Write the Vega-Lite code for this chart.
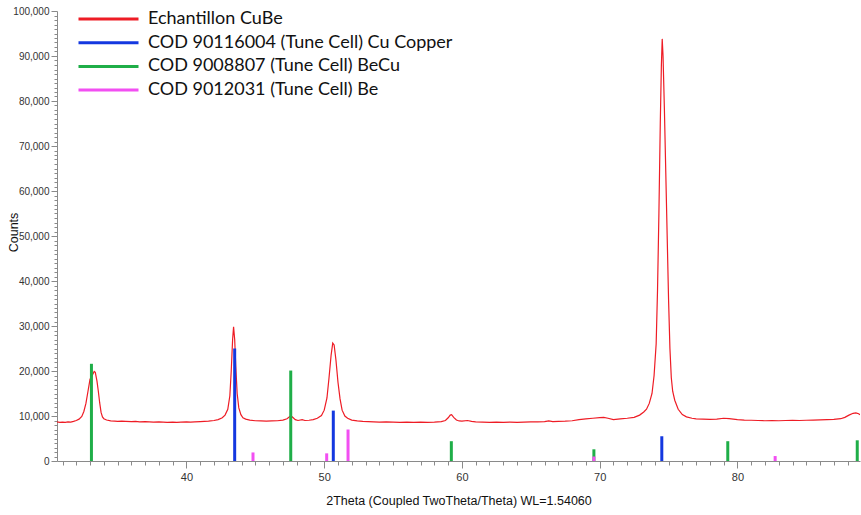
{
  "$schema": "https://vega.github.io/schema/vega-lite/v6.json",
  "autosize": {"type": "none"},
  "width": 803,
  "height": 450,
  "padding": {"left": 57, "top": 11, "right": 1, "bottom": 54},
  "background": "white",
  "config": {"view": {"stroke": null}},
  "datasets": {
    "scan": [
      {"series": "Echantillon CuBe", "twotheta": 30.6, "counts": 8700},
      {"series": "Echantillon CuBe", "twotheta": 30.8, "counts": 8600},
      {"series": "Echantillon CuBe", "twotheta": 31.0, "counts": 8650},
      {"series": "Echantillon CuBe", "twotheta": 31.2, "counts": 8600},
      {"series": "Echantillon CuBe", "twotheta": 31.4, "counts": 8700},
      {"series": "Echantillon CuBe", "twotheta": 31.6, "counts": 8650},
      {"series": "Echantillon CuBe", "twotheta": 31.8, "counts": 8800},
      {"series": "Echantillon CuBe", "twotheta": 32.0, "counts": 9000},
      {"series": "Echantillon CuBe", "twotheta": 32.2, "counts": 9300},
      {"series": "Echantillon CuBe", "twotheta": 32.4, "counts": 9900},
      {"series": "Echantillon CuBe", "twotheta": 32.55, "counts": 11000},
      {"series": "Echantillon CuBe", "twotheta": 32.7, "counts": 12800},
      {"series": "Echantillon CuBe", "twotheta": 32.85, "counts": 15500},
      {"series": "Echantillon CuBe", "twotheta": 33.0, "counts": 18200},
      {"series": "Echantillon CuBe", "twotheta": 33.1, "counts": 18500},
      {"series": "Echantillon CuBe", "twotheta": 33.2, "counts": 19300},
      {"series": "Echantillon CuBe", "twotheta": 33.3, "counts": 19900},
      {"series": "Echantillon CuBe", "twotheta": 33.38, "counts": 19700},
      {"series": "Echantillon CuBe", "twotheta": 33.5, "counts": 17800},
      {"series": "Echantillon CuBe", "twotheta": 33.6, "counts": 15500},
      {"series": "Echantillon CuBe", "twotheta": 33.7, "counts": 12900},
      {"series": "Echantillon CuBe", "twotheta": 33.8, "counts": 10800},
      {"series": "Echantillon CuBe", "twotheta": 33.9, "counts": 9800},
      {"series": "Echantillon CuBe", "twotheta": 34.0, "counts": 9400},
      {"series": "Echantillon CuBe", "twotheta": 34.2, "counts": 9100},
      {"series": "Echantillon CuBe", "twotheta": 34.5, "counts": 8900},
      {"series": "Echantillon CuBe", "twotheta": 34.8, "counts": 8850},
      {"series": "Echantillon CuBe", "twotheta": 35.0, "counts": 8800},
      {"series": "Echantillon CuBe", "twotheta": 35.3, "counts": 8850},
      {"series": "Echantillon CuBe", "twotheta": 35.6, "counts": 8800},
      {"series": "Echantillon CuBe", "twotheta": 36.0, "counts": 8750},
      {"series": "Echantillon CuBe", "twotheta": 36.3, "counts": 8800},
      {"series": "Echantillon CuBe", "twotheta": 36.6, "counts": 8700},
      {"series": "Echantillon CuBe", "twotheta": 37.0, "counts": 8750},
      {"series": "Echantillon CuBe", "twotheta": 37.3, "counts": 8700},
      {"series": "Echantillon CuBe", "twotheta": 37.6, "counts": 8650},
      {"series": "Echantillon CuBe", "twotheta": 38.0, "counts": 8700},
      {"series": "Echantillon CuBe", "twotheta": 38.3, "counts": 8650},
      {"series": "Echantillon CuBe", "twotheta": 38.6, "counts": 8600},
      {"series": "Echantillon CuBe", "twotheta": 39.0, "counts": 8650},
      {"series": "Echantillon CuBe", "twotheta": 39.3, "counts": 8600},
      {"series": "Echantillon CuBe", "twotheta": 39.6, "counts": 8650},
      {"series": "Echantillon CuBe", "twotheta": 40.0, "counts": 8700},
      {"series": "Echantillon CuBe", "twotheta": 40.3, "counts": 8650},
      {"series": "Echantillon CuBe", "twotheta": 40.6, "counts": 8700},
      {"series": "Echantillon CuBe", "twotheta": 41.0, "counts": 8750},
      {"series": "Echantillon CuBe", "twotheta": 41.3, "counts": 8800},
      {"series": "Echantillon CuBe", "twotheta": 41.6, "counts": 8850},
      {"series": "Echantillon CuBe", "twotheta": 42.0, "counts": 9000},
      {"series": "Echantillon CuBe", "twotheta": 42.3, "counts": 9200},
      {"series": "Echantillon CuBe", "twotheta": 42.6, "counts": 9600},
      {"series": "Echantillon CuBe", "twotheta": 42.8, "counts": 10200},
      {"series": "Echantillon CuBe", "twotheta": 43.0, "counts": 11500},
      {"series": "Echantillon CuBe", "twotheta": 43.15, "counts": 14500},
      {"series": "Echantillon CuBe", "twotheta": 43.25, "counts": 20000},
      {"series": "Echantillon CuBe", "twotheta": 43.35, "counts": 27000},
      {"series": "Echantillon CuBe", "twotheta": 43.42, "counts": 29800},
      {"series": "Echantillon CuBe", "twotheta": 43.5, "counts": 27000},
      {"series": "Echantillon CuBe", "twotheta": 43.58, "counts": 21000},
      {"series": "Echantillon CuBe", "twotheta": 43.68, "counts": 15000},
      {"series": "Echantillon CuBe", "twotheta": 43.8, "counts": 11800},
      {"series": "Echantillon CuBe", "twotheta": 43.95, "counts": 10300},
      {"series": "Echantillon CuBe", "twotheta": 44.1, "counts": 9600},
      {"series": "Echantillon CuBe", "twotheta": 44.3, "counts": 9300},
      {"series": "Echantillon CuBe", "twotheta": 44.6, "counts": 9100},
      {"series": "Echantillon CuBe", "twotheta": 45.0, "counts": 8950},
      {"series": "Echantillon CuBe", "twotheta": 45.4, "counts": 8900},
      {"series": "Echantillon CuBe", "twotheta": 45.8, "counts": 8850},
      {"series": "Echantillon CuBe", "twotheta": 46.2, "counts": 8900},
      {"series": "Echantillon CuBe", "twotheta": 46.6, "counts": 8950},
      {"series": "Echantillon CuBe", "twotheta": 47.0, "counts": 9100},
      {"series": "Echantillon CuBe", "twotheta": 47.3, "counts": 9400},
      {"series": "Echantillon CuBe", "twotheta": 47.5, "counts": 9900},
      {"series": "Echantillon CuBe", "twotheta": 47.6, "counts": 10000},
      {"series": "Echantillon CuBe", "twotheta": 47.75, "counts": 9600},
      {"series": "Echantillon CuBe", "twotheta": 47.9, "counts": 9200},
      {"series": "Echantillon CuBe", "twotheta": 48.1, "counts": 9000},
      {"series": "Echantillon CuBe", "twotheta": 48.4, "counts": 9200},
      {"series": "Echantillon CuBe", "twotheta": 48.6, "counts": 9000},
      {"series": "Echantillon CuBe", "twotheta": 48.9, "counts": 9050},
      {"series": "Echantillon CuBe", "twotheta": 49.2, "counts": 9200},
      {"series": "Echantillon CuBe", "twotheta": 49.5, "counts": 9500},
      {"series": "Echantillon CuBe", "twotheta": 49.8, "counts": 10100},
      {"series": "Echantillon CuBe", "twotheta": 50.0, "counts": 11300},
      {"series": "Echantillon CuBe", "twotheta": 50.2, "counts": 14000},
      {"series": "Echantillon CuBe", "twotheta": 50.35, "counts": 18500},
      {"series": "Echantillon CuBe", "twotheta": 50.5, "counts": 23500},
      {"series": "Echantillon CuBe", "twotheta": 50.62, "counts": 26200},
      {"series": "Echantillon CuBe", "twotheta": 50.72, "counts": 25800},
      {"series": "Echantillon CuBe", "twotheta": 50.85, "counts": 22500},
      {"series": "Echantillon CuBe", "twotheta": 51.0, "counts": 17500},
      {"series": "Echantillon CuBe", "twotheta": 51.15, "counts": 13800},
      {"series": "Echantillon CuBe", "twotheta": 51.3, "counts": 11300},
      {"series": "Echantillon CuBe", "twotheta": 51.5, "counts": 10000},
      {"series": "Echantillon CuBe", "twotheta": 51.7, "counts": 9500},
      {"series": "Echantillon CuBe", "twotheta": 52.0, "counts": 9100},
      {"series": "Echantillon CuBe", "twotheta": 52.4, "counts": 8900},
      {"series": "Echantillon CuBe", "twotheta": 52.8, "counts": 8800},
      {"series": "Echantillon CuBe", "twotheta": 53.2, "counts": 8750},
      {"series": "Echantillon CuBe", "twotheta": 53.6, "counts": 8700},
      {"series": "Echantillon CuBe", "twotheta": 54.0, "counts": 8650},
      {"series": "Echantillon CuBe", "twotheta": 54.5, "counts": 8700},
      {"series": "Echantillon CuBe", "twotheta": 55.0, "counts": 8650},
      {"series": "Echantillon CuBe", "twotheta": 55.5, "counts": 8600},
      {"series": "Echantillon CuBe", "twotheta": 56.0, "counts": 8650},
      {"series": "Echantillon CuBe", "twotheta": 56.5, "counts": 8600},
      {"series": "Echantillon CuBe", "twotheta": 57.0, "counts": 8650},
      {"series": "Echantillon CuBe", "twotheta": 57.5, "counts": 8600},
      {"series": "Echantillon CuBe", "twotheta": 58.0, "counts": 8650},
      {"series": "Echantillon CuBe", "twotheta": 58.5, "counts": 8750},
      {"series": "Echantillon CuBe", "twotheta": 58.8, "counts": 9000},
      {"series": "Echantillon CuBe", "twotheta": 59.0, "counts": 9600},
      {"series": "Echantillon CuBe", "twotheta": 59.15, "counts": 10200},
      {"series": "Echantillon CuBe", "twotheta": 59.25, "counts": 10300},
      {"series": "Echantillon CuBe", "twotheta": 59.4, "counts": 9700},
      {"series": "Echantillon CuBe", "twotheta": 59.6, "counts": 9100},
      {"series": "Echantillon CuBe", "twotheta": 59.8, "counts": 8900},
      {"series": "Echantillon CuBe", "twotheta": 60.0, "counts": 8850},
      {"series": "Echantillon CuBe", "twotheta": 60.4, "counts": 9000},
      {"series": "Echantillon CuBe", "twotheta": 60.7, "counts": 8800},
      {"series": "Echantillon CuBe", "twotheta": 61.0, "counts": 8700},
      {"series": "Echantillon CuBe", "twotheta": 61.5, "counts": 8650},
      {"series": "Echantillon CuBe", "twotheta": 62.0, "counts": 8600},
      {"series": "Echantillon CuBe", "twotheta": 62.5, "counts": 8650},
      {"series": "Echantillon CuBe", "twotheta": 63.0, "counts": 8600},
      {"series": "Echantillon CuBe", "twotheta": 63.5, "counts": 8650},
      {"series": "Echantillon CuBe", "twotheta": 64.0, "counts": 8600},
      {"series": "Echantillon CuBe", "twotheta": 64.5, "counts": 8650},
      {"series": "Echantillon CuBe", "twotheta": 65.0, "counts": 8700},
      {"series": "Echantillon CuBe", "twotheta": 65.5, "counts": 8700},
      {"series": "Echantillon CuBe", "twotheta": 66.0, "counts": 8750},
      {"series": "Echantillon CuBe", "twotheta": 66.3, "counts": 8900},
      {"series": "Echantillon CuBe", "twotheta": 66.6, "counts": 8750},
      {"series": "Echantillon CuBe", "twotheta": 67.0, "counts": 8800},
      {"series": "Echantillon CuBe", "twotheta": 67.5, "counts": 8850},
      {"series": "Echantillon CuBe", "twotheta": 68.0, "counts": 8950},
      {"series": "Echantillon CuBe", "twotheta": 68.5, "counts": 9200},
      {"series": "Echantillon CuBe", "twotheta": 69.0, "counts": 9350},
      {"series": "Echantillon CuBe", "twotheta": 69.5, "counts": 9500},
      {"series": "Echantillon CuBe", "twotheta": 70.0, "counts": 9650},
      {"series": "Echantillon CuBe", "twotheta": 70.3, "counts": 9700},
      {"series": "Echantillon CuBe", "twotheta": 70.6, "counts": 9500},
      {"series": "Echantillon CuBe", "twotheta": 71.0, "counts": 9200},
      {"series": "Echantillon CuBe", "twotheta": 71.5, "counts": 9350},
      {"series": "Echantillon CuBe", "twotheta": 72.0, "counts": 9500},
      {"series": "Echantillon CuBe", "twotheta": 72.5, "counts": 9700},
      {"series": "Echantillon CuBe", "twotheta": 72.9, "counts": 10200},
      {"series": "Echantillon CuBe", "twotheta": 73.2, "counts": 10900},
      {"series": "Echantillon CuBe", "twotheta": 73.4, "counts": 11500},
      {"series": "Echantillon CuBe", "twotheta": 73.6, "counts": 12800},
      {"series": "Echantillon CuBe", "twotheta": 73.8, "counts": 15000},
      {"series": "Echantillon CuBe", "twotheta": 73.95, "counts": 19000},
      {"series": "Echantillon CuBe", "twotheta": 74.1, "counts": 26000},
      {"series": "Echantillon CuBe", "twotheta": 74.2, "counts": 38000},
      {"series": "Echantillon CuBe", "twotheta": 74.3, "counts": 55000},
      {"series": "Echantillon CuBe", "twotheta": 74.4, "counts": 75000},
      {"series": "Echantillon CuBe", "twotheta": 74.48, "counts": 88000},
      {"series": "Echantillon CuBe", "twotheta": 74.54, "counts": 93800},
      {"series": "Echantillon CuBe", "twotheta": 74.6, "counts": 90000},
      {"series": "Echantillon CuBe", "twotheta": 74.7, "counts": 78000},
      {"series": "Echantillon CuBe", "twotheta": 74.8, "counts": 64000},
      {"series": "Echantillon CuBe", "twotheta": 74.9, "counts": 50000},
      {"series": "Echantillon CuBe", "twotheta": 75.0, "counts": 36000},
      {"series": "Echantillon CuBe", "twotheta": 75.1, "counts": 25000},
      {"series": "Echantillon CuBe", "twotheta": 75.2, "counts": 18500},
      {"series": "Echantillon CuBe", "twotheta": 75.3, "counts": 15500},
      {"series": "Echantillon CuBe", "twotheta": 75.45, "counts": 13500},
      {"series": "Echantillon CuBe", "twotheta": 75.7, "counts": 11500},
      {"series": "Echantillon CuBe", "twotheta": 76.0, "counts": 10300},
      {"series": "Echantillon CuBe", "twotheta": 76.3, "counts": 9800},
      {"series": "Echantillon CuBe", "twotheta": 76.7, "counts": 9500},
      {"series": "Echantillon CuBe", "twotheta": 77.0, "counts": 9350},
      {"series": "Echantillon CuBe", "twotheta": 77.5, "counts": 9300},
      {"series": "Echantillon CuBe", "twotheta": 78.0, "counts": 9250},
      {"series": "Echantillon CuBe", "twotheta": 78.5, "counts": 9300},
      {"series": "Echantillon CuBe", "twotheta": 79.0, "counts": 9500},
      {"series": "Echantillon CuBe", "twotheta": 79.4, "counts": 9400},
      {"series": "Echantillon CuBe", "twotheta": 80.0, "counts": 9200},
      {"series": "Echantillon CuBe", "twotheta": 80.5, "counts": 9100},
      {"series": "Echantillon CuBe", "twotheta": 81.0, "counts": 9050},
      {"series": "Echantillon CuBe", "twotheta": 81.5, "counts": 9000},
      {"series": "Echantillon CuBe", "twotheta": 82.0, "counts": 8950},
      {"series": "Echantillon CuBe", "twotheta": 82.5, "counts": 9000},
      {"series": "Echantillon CuBe", "twotheta": 83.0, "counts": 8950},
      {"series": "Echantillon CuBe", "twotheta": 83.5, "counts": 9000},
      {"series": "Echantillon CuBe", "twotheta": 84.0, "counts": 9050},
      {"series": "Echantillon CuBe", "twotheta": 84.5, "counts": 9000},
      {"series": "Echantillon CuBe", "twotheta": 85.0, "counts": 9050},
      {"series": "Echantillon CuBe", "twotheta": 85.5, "counts": 9100},
      {"series": "Echantillon CuBe", "twotheta": 86.0, "counts": 9150},
      {"series": "Echantillon CuBe", "twotheta": 86.5, "counts": 9200},
      {"series": "Echantillon CuBe", "twotheta": 87.0, "counts": 9250},
      {"series": "Echantillon CuBe", "twotheta": 87.5, "counts": 9400},
      {"series": "Echantillon CuBe", "twotheta": 87.8, "counts": 9700},
      {"series": "Echantillon CuBe", "twotheta": 88.1, "counts": 10200},
      {"series": "Echantillon CuBe", "twotheta": 88.4, "counts": 10600},
      {"series": "Echantillon CuBe", "twotheta": 88.6, "counts": 10700},
      {"series": "Echantillon CuBe", "twotheta": 88.8, "counts": 10500},
      {"series": "Echantillon CuBe", "twotheta": 88.9, "counts": 10300}
    ],
    "refs": [
      {"series": "COD 90116004 (Tune Cell) Cu Copper", "twotheta": 43.5, "counts": 25000},
      {"series": "COD 90116004 (Tune Cell) Cu Copper", "twotheta": 50.66, "counts": 11200},
      {"series": "COD 90116004 (Tune Cell) Cu Copper", "twotheta": 74.51, "counts": 5500},
      {"series": "COD 9008807 (Tune Cell) BeCu", "twotheta": 33.1, "counts": 21600},
      {"series": "COD 9008807 (Tune Cell) BeCu", "twotheta": 47.57, "counts": 20100},
      {"series": "COD 9008807 (Tune Cell) BeCu", "twotheta": 59.23, "counts": 4400},
      {"series": "COD 9008807 (Tune Cell) BeCu", "twotheta": 69.58, "counts": 2600},
      {"series": "COD 9008807 (Tune Cell) BeCu", "twotheta": 79.3, "counts": 4400},
      {"series": "COD 9008807 (Tune Cell) BeCu", "twotheta": 88.7, "counts": 4600},
      {"series": "COD 9012031 (Tune Cell) Be", "twotheta": 44.83, "counts": 1900},
      {"series": "COD 9012031 (Tune Cell) Be", "twotheta": 50.18, "counts": 1700},
      {"series": "COD 9012031 (Tune Cell) Be", "twotheta": 51.73, "counts": 7000},
      {"series": "COD 9012031 (Tune Cell) Be", "twotheta": 69.58, "counts": 1000},
      {"series": "COD 9012031 (Tune Cell) Be", "twotheta": 82.74, "counts": 1100}
    ]
  },
  "encoding": {
    "x": {
      "field": "twotheta",
      "type": "quantitative",
      "scale": {"domain": [30.6, 88.9], "nice": false, "zero": false},
      "axis": {
        "title": "2Theta (Coupled TwoTheta/Theta) WL=1.54060",
        "values": [31,32,33,34,35,36,37,38,39,40,41,42,43,44,45,46,47,48,49,50,51,52,53,54,55,56,57,58,59,60,61,62,63,64,65,66,67,68,69,70,71,72,73,74,75,76,77,78,79,80,81,82,83,84,85,86,87,88],
        "labelExpr": "datum.value % 10 === 0 ? format(datum.value, 'd') : ''",
        "labelOverlap": false,
        "labelFlush": false,
        "grid": false,
        "domainColor": "#8a8a8a",
        "tickColor": "#8a8a8a",
        "tickSize": {"condition": {"test": "datum.value % 10 === 0", "value": 7}, "value": 4},
        "labelColor": "#333333",
        "labelFont": "Liberation Sans",
        "labelFontSize": 11,
        "labelPadding": 3,
        "titleFont": "Liberation Sans",
        "titleFontSize": 12.5,
        "titleFontWeight": "normal",
        "titleColor": "#111111",
        "titlePadding": 12
      }
    },
    "y": {
      "field": "counts",
      "type": "quantitative",
      "scale": {"domain": [0, 100000], "nice": false},
      "axis": {
        "title": "Counts",
        "values": [0,1000,2000,3000,4000,5000,6000,7000,8000,9000,10000,11000,12000,13000,14000,15000,16000,17000,18000,19000,20000,21000,22000,23000,24000,25000,26000,27000,28000,29000,30000,31000,32000,33000,34000,35000,36000,37000,38000,39000,40000,41000,42000,43000,44000,45000,46000,47000,48000,49000,50000,51000,52000,53000,54000,55000,56000,57000,58000,59000,60000,61000,62000,63000,64000,65000,66000,67000,68000,69000,70000,71000,72000,73000,74000,75000,76000,77000,78000,79000,80000,81000,82000,83000,84000,85000,86000,87000,88000,89000,90000,91000,92000,93000,94000,95000,96000,97000,98000,99000,100000],
        "labelExpr": "datum.value % 10000 === 0 ? format(datum.value, ',') : ''",
        "labelOverlap": false,
        "labelFlush": false,
        "grid": false,
        "domainColor": "#8a8a8a",
        "tickColor": "#8a8a8a",
        "tickSize": {"condition": {"test": "datum.value % 10000 === 0", "value": 6}, "value": 3},
        "labelColor": "#333333",
        "labelFont": "Liberation Sans",
        "labelFontSize": 10,
        "labelPadding": 2,
        "titleFont": "Liberation Sans",
        "titleFontSize": 12.5,
        "titleFontWeight": "normal",
        "titleColor": "#111111",
        "titleX": -37,
        "titleY": 221
      }
    },
    "color": {
      "field": "series",
      "type": "nominal",
      "scale": {
        "domain": ["Echantillon CuBe", "COD 90116004 (Tune Cell) Cu Copper", "COD 9008807 (Tune Cell) BeCu", "COD 9012031 (Tune Cell) Be"],
        "range": ["#ee1c25", "#1438e0", "#1fae48", "#f24ff2"]
      },
      "legend": {
        "title": null,
        "orient": "none",
        "legendX": 20,
        "legendY": -3.5,
        "symbolType": "M-1,0H5",
        "symbolSize": 400,
        "symbolStrokeWidth": 3,
        "labelFont": "Lato",
        "labelFontSize": 18,
        "labelColor": "#111111",
        "labelOffset": 48,
        "rowPadding": 2.7,
        "labelLimit": 500
      }
    }
  },
  "layer": [
    {
      "data": {"name": "scan"},
      "mark": {"type": "line", "strokeWidth": 1.2, "clip": true}
    },
    {
      "data": {"name": "refs"},
      "mark": {"type": "rule", "strokeWidth": 3},
      "encoding": {"y2": {"datum": 0}}
    }
  ]
}
